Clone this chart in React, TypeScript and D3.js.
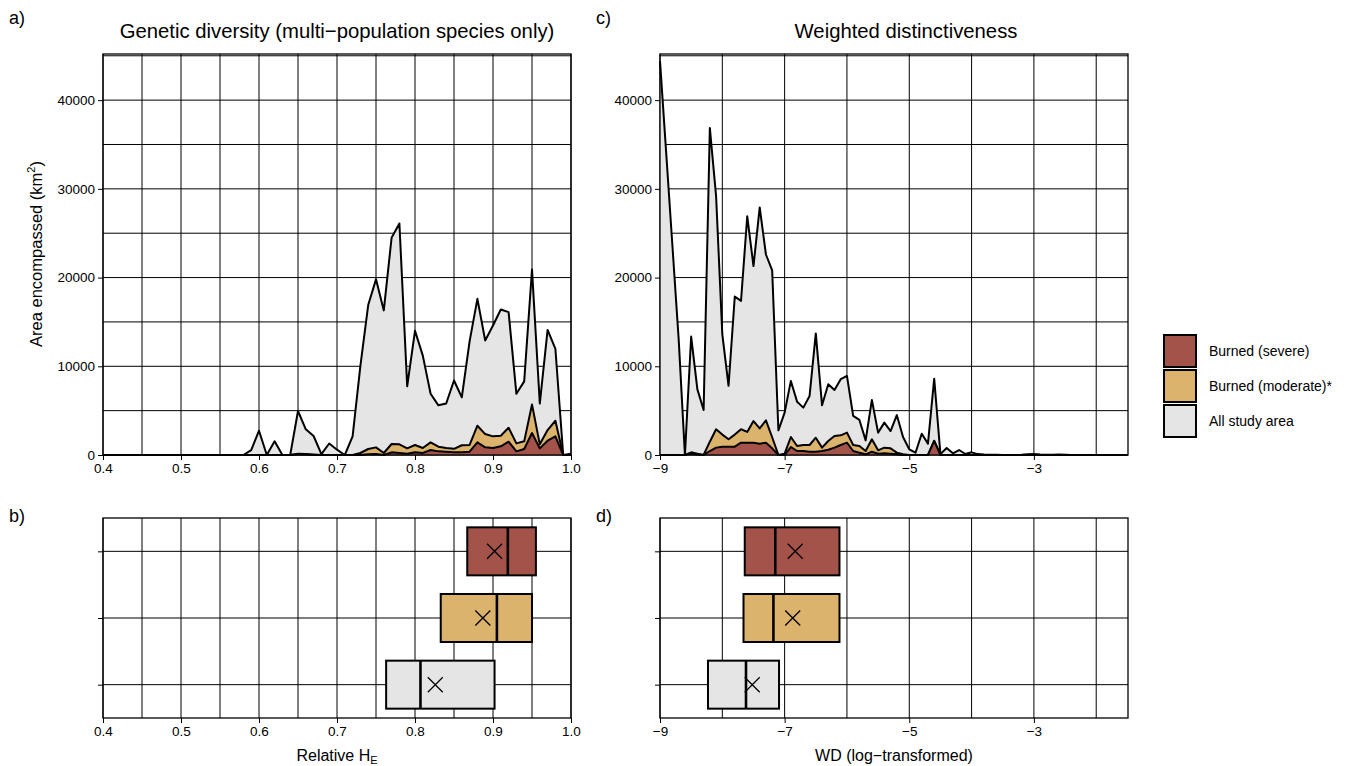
import { useEffect, useRef } from "react";
import * as d3 from "d3";

// Relative HE bins (panel a)
const heBins = [
  0.40, 0.41, 0.42, 0.43, 0.44, 0.45, 0.46, 0.47, 0.48, 0.49,
  0.50, 0.51, 0.52, 0.53, 0.54, 0.55, 0.56, 0.57, 0.58, 0.59,
  0.60, 0.61, 0.62, 0.63, 0.64, 0.65, 0.66, 0.67, 0.68, 0.69,
  0.70, 0.71, 0.72, 0.73, 0.74, 0.75, 0.76, 0.77, 0.78, 0.79,
  0.80, 0.81, 0.82, 0.83, 0.84, 0.85, 0.86, 0.87, 0.88, 0.89,
  0.90, 0.91, 0.92, 0.93, 0.94, 0.95, 0.96, 0.97, 0.98, 0.99,
  1.00,
];
const heAll = [
  0, 0, 0, 0, 0, 0, 0, 0, 0, 0,
  0, 0, 0, 0, 0, 0, 0, 0, 0, 560,
  2740, 0, 1540, 0, 0, 4960, 2900, 2140, 100, 1300,
  600, 0, 2100, 10050, 16900, 19800, 16300, 24500, 26100, 7750,
  14000, 11200, 6900, 5600, 5800, 8400, 6500, 12800, 17600, 12900,
  14600, 16400, 16100, 6900, 8300, 20900, 5800, 14100, 11950, 0,
  150,
];
const heModerate = [
  0, 0, 0, 0, 0, 0, 0, 0, 0, 0,
  0, 0, 0, 0, 0, 0, 0, 0, 0, 0,
  0, 0, 0, 0, 0, 150, 100, 50, 0, 0,
  0, 0, 0, 225, 675, 860, 225, 1240, 1200, 750,
  1125, 790, 1425, 940, 790, 700, 1100, 1130, 3300, 2360,
  2100, 2175, 3075, 1310, 1540, 5700, 1200, 2810, 3860, 0,
  0,
];
const heSevere = [
  0, 0, 0, 0, 0, 0, 0, 0, 0, 0,
  0, 0, 0, 0, 0, 0, 0, 0, 0, 0,
  0, 0, 0, 0, 0, 80, 50, 0, 0, 0,
  0, 0, 0, 0, 75, 110, 0, 300, 225, 150,
  300, 225, 560, 410, 375, 300, 300, 375, 1425, 860,
  790, 975, 1500, 410, 675, 2475, 750, 1610, 2100, 0,
  0,
];

// WD (log) bins (panel c)
const wdBins = [
  -9.0, -8.9, -8.8, -8.7, -8.6, -8.5, -8.4, -8.3, -8.2, -8.1,
  -8.0, -7.9, -7.8, -7.7, -7.6, -7.5, -7.4, -7.3, -7.2, -7.1,
  -7.0, -6.9, -6.8, -6.7, -6.6, -6.5, -6.4, -6.3, -6.2, -6.1,
  -6.0, -5.9, -5.8, -5.7, -5.6, -5.5, -5.4, -5.3, -5.2, -5.1,
  -5.0, -4.9, -4.8, -4.7, -4.6, -4.5, -4.4, -4.3, -4.2, -4.1,
  -4.0, -3.9, -3.8, -3.7, -3.6, -3.5, -3.4, -3.3, -3.2, -3.1,
  -3.0, -2.9, -2.8, -2.7, -2.6, -2.5, -2.4, -2.3, -2.2, -2.1,
  -2.0, -1.9, -1.8, -1.7, -1.6, -1.5,
];
const wdAll = [
  44400, 34000, 23500, 13000, 0, 13350, 7400, 5080, 36850, 29200,
  13600, 7800, 17860, 17370, 26900, 21300, 27900, 22600, 20800, 2780,
  4780, 8350, 6000, 5340, 6650, 13700, 5600, 7970, 7330, 8540,
  8910, 4400, 3950, 1650, 6200, 2520, 3650, 2700, 4500, 2030,
  640, 260, 2400, 1280, 8600, 100, 790, 190, 560, 110,
  300, 100, 60, 40, 20, 0, 0, 0, 30, 80,
  120, 60, 20, 40, 60, 30, 0, 0, 0, 0,
  0, 0, 0, 0, 0, 0,
];
const wdModerate = [
  0, 0, 0, 0, 0, 300, 150, 0, 1500, 2900,
  2300, 1770, 2300, 2900, 2600, 3830, 3000, 3900, 2000, 0,
  150, 2030, 1020, 1130, 1130, 1950, 830, 1580, 2140, 2220,
  2520, 1130, 1020, 450, 1770, 530, 830, 750, 260, 75,
  0, 0, 0, 0, 1600, 0, 0, 0, 0, 0,
  0, 0, 0, 0, 0, 0, 0, 0, 0, 0,
  0, 0, 0, 0, 0, 0, 0, 0, 0, 0,
  0, 0, 0, 0, 0, 0,
];
const wdSevere = [
  0, 0, 0, 0, 0, 150, 50, 0, 450, 830,
  940, 940, 940, 1390, 1390, 1390, 1280, 1390, 750, 0,
  0, 900, 450, 450, 375, 375, 450, 600, 830, 1130,
  1390, 450, 260, 75, 375, 150, 190, 150, 75, 0,
  0, 0, 0, 0, 1600, 0, 0, 0, 0, 0,
  0, 0, 0, 0, 0, 0, 0, 0, 0, 0,
  0, 0, 0, 0, 0, 0, 0, 0, 0, 0,
  0, 0, 0, 0, 0, 0,
];

const groups = ["Burned (severe)", "Burned (moderate)*", "All study area"];
const groupColors = ["#a3534a", "#dcb36d", "#e5e5e5"];

// box summaries per group: lower quartile, median, upper quartile, mean
const heQ1 = [0.867, 0.833, 0.763];
const heMedian = [0.919, 0.905, 0.807];
const heQ3 = [0.955, 0.950, 0.902];
const heMean = [0.902, 0.887, 0.826];
const wdQ1 = [-7.64, -7.66, -8.23];
const wdMedian = [-7.15, -7.18, -7.62];
const wdQ3 = [-6.12, -6.12, -7.09];
const wdMean = [-6.83, -6.87, -7.52];

const areaYTicks = [0, 10000, 20000, 30000, 40000];
const areaYGrid = [0, 5000, 10000, 15000, 20000, 25000, 30000, 35000, 40000, 45000];
const heTicks = [0.4, 0.5, 0.6, 0.7, 0.8, 0.9, 1.0];
const heGrid = [0.4, 0.45, 0.5, 0.55, 0.6, 0.65, 0.7, 0.75, 0.8, 0.85, 0.9, 0.95, 1.0];
const wdTicks = [-9, -7, -5, -3];
const wdGrid = [-9, -8, -7, -6, -5, -4, -3, -2];

export default function App() {
  const svgRef = useRef<SVGSVGElement>(null);

  useEffect(() => {
    document.body.style.margin = "0";
    const svg = d3.select(svgRef.current);
    svg.selectAll("*").remove();
    svg.attr("font-family", "'Liberation Sans', Arial, Helvetica, sans-serif");

    const yArea = d3.scaleLinear().domain([0, 45200]).range([455, 54]);
    const xHe = d3.scaleLinear().domain([0.4, 1.0]).range([103, 571]);
    const xWd = d3.scaleLinear().domain([-9, -1.49]).range([660, 1128]);
    const yBox = d3.scalePoint<string>().domain(groups).range([518, 718]).padding(0.5);

    const heFmt = (d: number) => d3.format(".1f")(d);
    const wdFmt = (d: number) => d3.format("d")(d);

    function styleAxis(g: any) {
      g.select(".domain").remove();
      g.selectAll(".tick line").attr("stroke", "#000").attr("stroke-width", 1);
      g.selectAll(".tick text").attr("fill", "#000").attr("font-size", 13.5);
    }

    function areaPanel(x: any, grid: number[], ticks: number[], fmt: any, bins: number[], series: number[][]) {
      const g = svg.append("g");
      const [x0, x1] = x.range();
      const [yb, yt] = yArea.range();

      g.selectAll(".vg").data(grid).join("line")
        .attr("x1", (d) => x(d)).attr("x2", (d) => x(d))
        .attr("y1", yb).attr("y2", yt)
        .attr("stroke", "#000").attr("stroke-width", 1);
      g.selectAll(".hg").data(areaYGrid).join("line")
        .attr("x1", x0).attr("x2", x1)
        .attr("y1", (d) => yArea(d)).attr("y2", (d) => yArea(d))
        .attr("stroke", "#000").attr("stroke-width", 1);

      // all study area first, then moderate, then severe on top
      series.forEach((vals, k) => {
        const pts = bins.map((b, i) => [b, vals[i]] as [number, number]);
        const area = d3.area<[number, number]>()
          .x((d) => x(d[0])).y0(yArea(0)).y1((d) => yArea(d[1]));
        const line = d3.line<[number, number]>()
          .x((d) => x(d[0])).y((d) => yArea(d[1]));
        g.append("path").attr("d", area(pts)).attr("fill", groupColors[2 - k]);
        g.append("path").attr("d", line(pts))
          .attr("fill", "none").attr("stroke", "#000")
          .attr("stroke-width", 2).attr("stroke-linejoin", "round");
      });

      g.append("rect").attr("x", x0).attr("y", yt)
        .attr("width", x1 - x0).attr("height", yb - yt)
        .attr("fill", "none").attr("stroke", "#000").attr("stroke-width", 1.3);

      g.append("g").attr("transform", `translate(0,${yb})`)
        .call(d3.axisBottom(x).tickValues(ticks).tickFormat(fmt).tickSize(5).tickPadding(3))
        .call(styleAxis);
      g.append("g").attr("transform", `translate(${x0},0)`)
        .call(d3.axisLeft(yArea).tickValues(areaYTicks).tickFormat((d: any) => String(d)).tickSize(5).tickPadding(3))
        .call(styleAxis);
    }

    function boxPanel(x: any, grid: number[], ticks: number[], fmt: any,
      q1: number[], med: number[], q3: number[], mean: number[]) {
      const g = svg.append("g");
      const [x0, x1] = x.range();
      const [yt, yb] = yBox.range();

      g.selectAll(".vg").data(grid).join("line")
        .attr("x1", (d) => x(d)).attr("x2", (d) => x(d))
        .attr("y1", yb).attr("y2", yt)
        .attr("stroke", "#000").attr("stroke-width", 1);
      g.selectAll(".hg").data(groups).join("line")
        .attr("x1", x0).attr("x2", x1)
        .attr("y1", (d) => yBox(d)!).attr("y2", (d) => yBox(d)!)
        .attr("stroke", "#000").attr("stroke-width", 1);

      const half = yBox.step() * 0.36;
      groups.forEach((grp, i) => {
        const cy = yBox(grp)!;
        g.append("rect")
          .attr("x", x(q1[i])).attr("y", cy - half)
          .attr("width", x(q3[i]) - x(q1[i])).attr("height", half * 2)
          .attr("fill", groupColors[i]).attr("stroke", "#000").attr("stroke-width", 2);
        g.append("line")
          .attr("x1", x(med[i])).attr("x2", x(med[i]))
          .attr("y1", cy - half).attr("y2", cy + half)
          .attr("stroke", "#000").attr("stroke-width", 2.6);
        const mx = x(mean[i]);
        const s = 7.5;
        g.append("path")
          .attr("d", `M${mx - s},${cy - s}L${mx + s},${cy + s}M${mx - s},${cy + s}L${mx + s},${cy - s}`)
          .attr("stroke", "#000").attr("stroke-width", 1.3).attr("fill", "none");
      });

      g.append("rect").attr("x", x0).attr("y", yt)
        .attr("width", x1 - x0).attr("height", yb - yt)
        .attr("fill", "none").attr("stroke", "#000").attr("stroke-width", 1.3);

      g.append("g").attr("transform", `translate(0,${yb})`)
        .call(d3.axisBottom(x).tickValues(ticks).tickFormat(fmt).tickSize(5).tickPadding(3))
        .call(styleAxis);
      g.append("g").attr("transform", `translate(${x0},0)`)
        .call(d3.axisLeft(yBox).tickFormat(() => "").tickSize(5))
        .call(styleAxis);
    }

    areaPanel(xHe, heGrid, heTicks, heFmt, heBins, [heAll, heModerate, heSevere]);
    areaPanel(xWd, wdGrid, wdTicks, wdFmt, wdBins, [wdAll, wdModerate, wdSevere]);
    boxPanel(xHe, heGrid, heTicks, heFmt, heQ1, heMedian, heQ3, heMean);
    boxPanel(xWd, wdGrid, wdTicks, wdFmt, wdQ1, wdMedian, wdQ3, wdMean);

    // titles
    svg.append("text").attr("x", 337).attr("y", 38).attr("text-anchor", "middle")
      .attr("font-size", 20.3).text("Genetic diversity (multi\u2212population species only)");
    svg.append("text").attr("x", 906).attr("y", 38).attr("text-anchor", "middle")
      .attr("font-size", 20.3).text("Weighted distinctiveness");

    // panel letters
    [["a)", 9, 24], ["c)", 596, 24], ["b)", 9, 522], ["d)", 596, 522]].forEach(([t, x, y]) => {
      svg.append("text").attr("x", x as number).attr("y", y as number)
        .attr("font-size", 18).text(t as string);
    });

    // y axis title
    const yt = svg.append("text").attr("transform", "translate(42,254) rotate(-90)")
      .attr("text-anchor", "middle").attr("font-size", 16.5);
    yt.append("tspan").text("Area encompassed (km");
    yt.append("tspan").attr("font-size", 11).attr("dy", -7).text("2");
    yt.append("tspan").attr("dy", 7).text(")");

    // x axis titles
    const xt = svg.append("text").attr("x", 337).attr("y", 761)
      .attr("text-anchor", "middle").attr("font-size", 16);
    xt.append("tspan").text("Relative H");
    xt.append("tspan").attr("font-size", 11).attr("dy", 3).text("E");
    svg.append("text").attr("x", 894).attr("y", 761).attr("text-anchor", "middle")
      .attr("font-size", 16).text("WD (log\u2212transformed)");

    // legend
    const lg = svg.append("g");
    groups.forEach((grp, i) => {
      const y0 = 335 + i * 35;
      lg.append("rect").attr("x", 1164).attr("y", y0).attr("width", 32).attr("height", 32)
        .attr("fill", groupColors[i]).attr("stroke", "#000").attr("stroke-width", 2);
      lg.append("text").attr("x", 1209).attr("y", y0 + 21).attr("font-size", 14).text(grp);
    });
  }, []);

  return <svg ref={svgRef} width={1359} height={766} style={{ display: "block" }} />;
}
